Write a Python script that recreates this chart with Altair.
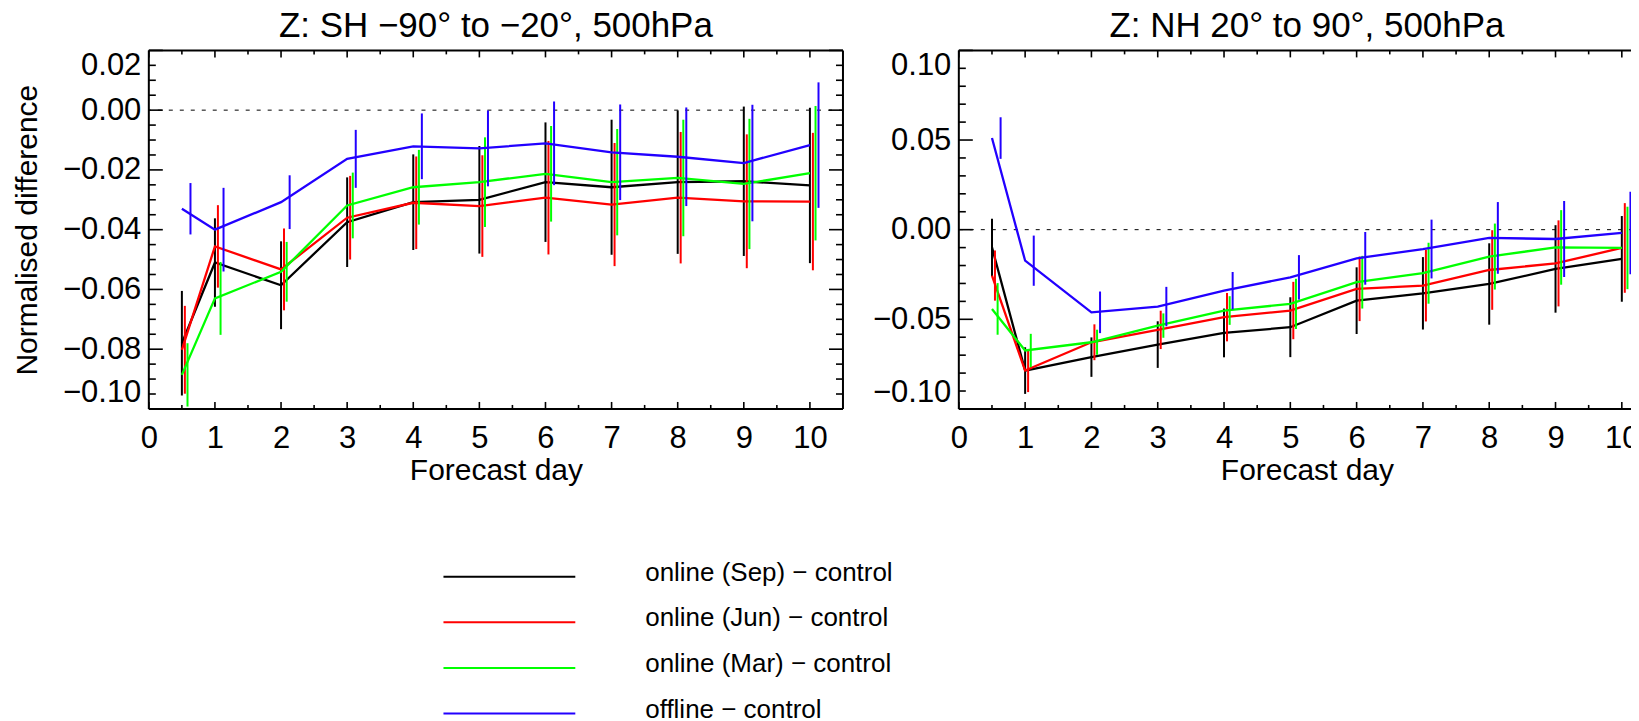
import altair as alt
import pandas as pd
import numpy as np

F = "Liberation Sans"

days = [0.5, 1, 2, 3, 4, 5, 6, 7, 8, 9, 10]
series = ["online (Sep) − control", "online (Jun) − control",
          "online (Mar) − control", "offline − control"]
colors = ["#000000", "#ff0000", "#00ff00", "#2200ff"]
bar_shift = [0.0, 0.045, 0.085, 0.13]

# SH -90 to -20, 500 hPa
sh_sep = [-0.078, -0.051, -0.0586, -0.0375, -0.0308, -0.030, -0.0241, -0.0258, -0.0241, -0.0238, -0.0252]
sh_sep_err = [0.0175, 0.0148, 0.0147, 0.015, 0.016, 0.018, 0.020, 0.0226, 0.024, 0.025, 0.026]
sh_jun = [-0.0802, -0.0456, -0.0533, -0.036, -0.031, -0.0321, -0.0293, -0.0316, -0.0293, -0.0305, -0.0306]
sh_jun_err = [0.0147, 0.0138, 0.0137, 0.014, 0.0155, 0.017, 0.019, 0.0206, 0.022, 0.0224, 0.023]
sh_mar = [-0.0886, -0.063, -0.0541, -0.0319, -0.0258, -0.0241, -0.0213, -0.0241, -0.0227, -0.0247, -0.0211]
sh_mar_err = [0.0106, 0.0122, 0.010, 0.011, 0.0125, 0.015, 0.016, 0.0178, 0.0195, 0.0218, 0.0225]
sh_off = [-0.033, -0.040, -0.0308, -0.0163, -0.0121, -0.0128, -0.0111, -0.0141, -0.0156, -0.0177, -0.0117]
sh_off_err = [0.0086, 0.014, 0.009, 0.0097, 0.011, 0.0127, 0.014, 0.016, 0.0165, 0.0195, 0.021]

# NH 20 to 90, 500 hPa
nh_sep = [-0.0099, -0.0786, -0.0711, -0.0641, -0.0576, -0.0544, -0.0396, -0.0355, -0.0303, -0.0219, -0.0163]
nh_sep_err = [0.016, 0.013, 0.011, 0.013, 0.0136, 0.0167, 0.0186, 0.0202, 0.0227, 0.0244, 0.0239]
nh_jun = [-0.0256, -0.0786, -0.0628, -0.0559, -0.0488, -0.0451, -0.033, -0.0312, -0.0225, -0.0188, -0.0102]
nh_jun_err = [0.014, 0.012, 0.010, 0.0107, 0.0135, 0.016, 0.018, 0.020, 0.0222, 0.024, 0.025]
nh_mar = [-0.0442, -0.0674, -0.0628, -0.0535, -0.0451, -0.0414, -0.0293, -0.0243, -0.015, -0.0099, -0.0102]
nh_mar_err = [0.0144, 0.0093, 0.007, 0.0068, 0.008, 0.014, 0.0147, 0.017, 0.0184, 0.0208, 0.023]
nh_off = [0.0511, -0.0173, -0.0461, -0.0429, -0.034, -0.0266, -0.016, -0.0108, -0.0046, -0.0052, -0.0018]
nh_off_err = [0.0116, 0.014, 0.0116, 0.011, 0.0104, 0.0124, 0.0147, 0.0164, 0.020, 0.0212, 0.023]

x_major = [0, 1, 2, 3, 4, 5, 6, 7, 8, 9, 10]
x_minor = [0.5, 1.5, 2.5, 3.5, 4.5, 5.5, 6.5, 7.5, 8.5, 9.5]
sh_y_major = [-0.10, -0.08, -0.06, -0.04, -0.02, 0.00, 0.02]
nh_y_major = [-0.10, -0.05, 0.00, 0.05, 0.10]


def series_frame(vals, errs):
    rows = []
    for k, (v, e) in enumerate(zip(vals, errs)):
        for d, val, er in zip(days, v, e):
            rows.append({"series": series[k], "day": d, "xbar": d + bar_shift[k],
                         "value": val, "lo": val - er, "hi": val + er})
    return pd.DataFrame(rows)


sh_df = series_frame([sh_sep, sh_jun, sh_mar, sh_off], [sh_sep_err, sh_jun_err, sh_mar_err, sh_off_err])
nh_df = series_frame([nh_sep, nh_jun, nh_mar, nh_off], [nh_sep_err, nh_jun_err, nh_mar_err, nh_off_err])

cscale = alt.Scale(domain=series, range=colors)


def panel(df, ydom, ymaj, ystep, title, W, H, xmax, ytitle):
    xs = alt.Scale(domain=[0, xmax], nice=False, zero=False)
    ys = alt.Scale(domain=ydom, nice=False, zero=False)
    xaxis = alt.Axis(values=x_major, format="d", labelFontSize=31, labelFont=F, labelColor="black",
                     labelPadding=15, labelFlush=False, ticks=False, tickSize=0, domain=False,
                     grid=False, title="Forecast day", titleFontSize=30, titleFont=F,
                     titleFontWeight="normal", titleColor="black", titlePadding=2)
    yaxis = alt.Axis(values=ymaj, format=".2f", labelFontSize=31, labelFont=F, labelColor="black",
                     labelPadding=8, labelFlush=True, ticks=False, tickSize=0, domain=False,
                     grid=False, title=ytitle, titleFontSize=30, titleFont=F,
                     titleFontWeight="normal", titleColor="black", titlePadding=20)
    layers = []
    zero = alt.Chart(pd.DataFrame({"v": [0.0]})).mark_rule(
        color="black", strokeWidth=1, strokeDash=[4, 7]).encode(
        y=alt.Y("v:Q", scale=ys, axis=yaxis))
    layers.append(zero)
    for k, s in enumerate(series):
        sdf = df[df["series"] == s]
        line = alt.Chart(sdf).mark_line(strokeWidth=2.3).encode(
            x=alt.X("day:Q", scale=xs, axis=xaxis),
            y=alt.Y("value:Q", scale=ys, axis=yaxis),
            color=alt.Color("series:N", scale=cscale, legend=None))
        bars = alt.Chart(sdf).mark_rule(strokeWidth=2).encode(
            x=alt.X("xbar:Q", scale=xs, axis=xaxis),
            y=alt.Y("lo:Q", scale=ys, axis=yaxis), y2="hi:Q",
            color=alt.Color("series:N", scale=cscale, legend=None))
        layers += [line, bars]
    # frame
    one = pd.DataFrame({"a": [0]})
    fr = dict(color="black", strokeWidth=2)
    layers.append(alt.Chart(one).mark_rule(**fr).encode(x=alt.value(0), y=alt.value(0), y2=alt.value(H)))
    layers.append(alt.Chart(one).mark_rule(**fr).encode(x=alt.value(W), y=alt.value(0), y2=alt.value(H)))
    layers.append(alt.Chart(one).mark_rule(**fr).encode(x=alt.value(0), x2=alt.value(W), y=alt.value(0)))
    layers.append(alt.Chart(one).mark_rule(**fr).encode(x=alt.value(0), x2=alt.value(W), y=alt.value(H)))
    # inward ticks on all four sides
    ymin_vals = [v for v in np.round(np.arange(ydom[0], ydom[1] + 1e-9, ystep), 4)
                 if not any(abs(v - m) < 1e-9 for m in ymaj)]
    ymaj_df = pd.DataFrame({"v": ymaj})
    ymin_df = pd.DataFrame({"v": ymin_vals})
    xmaj_df = pd.DataFrame({"v": x_major})
    xmin_df = pd.DataFrame({"v": x_minor})
    for tdf, ln in [(ymaj_df, 14), (ymin_df, 7)]:
        for x0, x1 in [(0, ln), (W - ln, W)]:
            layers.append(alt.Chart(tdf).mark_rule(color="black", strokeWidth=1.6).encode(
                y=alt.Y("v:Q", scale=ys, axis=yaxis), x=alt.value(x0), x2=alt.value(x1)))
    for tdf, ln in [(xmaj_df, 7), (xmin_df, 4)]:
        for y0, y1 in [(H, H - ln), (0, ln)]:
            layers.append(alt.Chart(tdf).mark_rule(color="black", strokeWidth=1.6).encode(
                x=alt.X("v:Q", scale=xs, axis=xaxis), y=alt.value(y0), y2=alt.value(y1)))
    return alt.layer(*layers).properties(
        width=W, height=H,
        title=alt.TitleParams(text=title, fontSize=35, font=F, fontWeight="normal", color="black",
                              offset=5, baseline="top", anchor="middle"),
        view=alt.ViewBackground(stroke="transparent"))


left = panel(sh_df, [-0.10, 0.02], sh_y_major, 0.005,
             "Z: SH −90° to −20°, 500hPa", 695, 359, 10.5, "Normalised difference")
right = panel(nh_df, [-0.10, 0.10], nh_y_major, 0.01,
              "Z: NH 20° to 90°, 500hPa", 697, 359, 10.5, "")

leg_df = pd.DataFrame({"series": series})
ly = alt.Y("series:N", sort=series, scale=alt.Scale(type="point", domain=series, padding=0), axis=None)
leg_rule = alt.Chart(leg_df).mark_rule(strokeWidth=2).encode(
    x=alt.value(295), x2=alt.value(427), y=ly,
    color=alt.Color("series:N", scale=cscale, legend=None))
leg_text = alt.Chart(leg_df).mark_text(align="left", baseline="middle", fontSize=26, font=F,
                                        color="black", dy=-4).encode(
    x=alt.value(497), y=ly, text="series:N")
legend = alt.layer(leg_rule, leg_text).properties(
    width=800, height=137, view=alt.ViewBackground(stroke="transparent"))

chart = alt.vconcat(
    alt.hconcat(left, right, spacing=116, bounds="flush"),
    legend, spacing=527, bounds="flush"
).properties(
    padding={"left": 4, "top": 0, "right": -26, "bottom": 0}
).configure_view(stroke="transparent")

chart.save("out.html", embed_options={"renderer": "svg", "actions": False})
